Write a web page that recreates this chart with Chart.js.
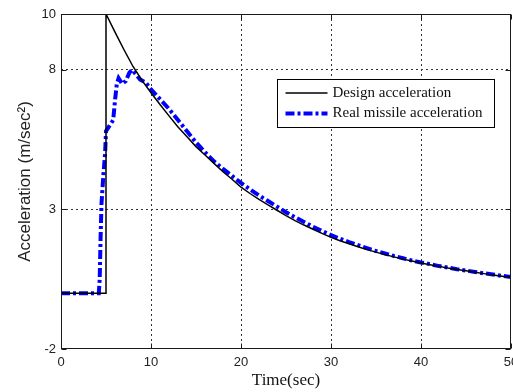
<!DOCTYPE html>
<html lang="en">
<head>
    <meta charset="UTF-8">
    <title>Missile acceleration</title>
    <script src="https://cdn.jsdelivr.net/npm/chart.js"></script>
    <style>
        body { margin: 0; padding: 0; background: #fff; }
        #chart-container { position: relative; width: 513px; height: 392px; }
    </style>
</head>
<body>

<div id="chart-container">
    <canvas id="accelChart"></canvas>
</div>

<script>
// Data
const designTime  = [0, 5, 5, 6, 7, 8, 9, 10, 11, 12, 13, 14, 15, 16, 17, 18, 19, 20, 21, 22, 23, 24, 25,
                     26, 27, 28, 29, 30, 31, 32, 33, 34, 35, 36, 37, 38, 39, 40, 41, 42, 43, 44, 45, 46, 47, 48, 49, 50];
const designAccel = [0, 0, 10, 9.35, 8.72, 8.12, 7.62, 7.18, 6.76, 6.35, 5.95, 5.6, 5.25, 4.95, 4.65, 4.35, 4.08, 3.8, 3.57, 3.36, 3.16, 2.97, 2.78,
                     2.6, 2.44, 2.29, 2.14, 2.0, 1.88, 1.77, 1.66, 1.56, 1.47, 1.38, 1.3, 1.22, 1.15, 1.08, 1.02, 0.96, 0.9, 0.85, 0.8, 0.75, 0.7, 0.65, 0.61, 0.57];

const realTime  = [0, 1, 2, 3, 4, 4.2, 4.3, 4.4, 4.5, 4.7, 4.9, 5.0, 5.4, 5.8, 6.0, 6.2, 6.4, 6.8, 7.2, 7.6, 7.9, 8.3, 8.8, 9.4, 10,
                   11, 12, 13, 14, 15, 16, 17, 18, 19, 20, 21, 22, 23, 24, 25, 26, 27, 28, 29, 30,
                   31, 32, 33, 34, 35, 36, 37, 38, 39, 40, 41, 42, 43, 44, 45, 46, 47, 48, 49, 50];
const realAccel = [0, 0, 0, 0, 0, 0, 0.5, 2.0, 3.2, 4.2, 5.0, 5.8, 6.0, 6.2, 6.9, 7.5, 7.7, 7.5, 7.6, 7.9, 8.0, 7.85, 7.65, 7.55, 7.3,
                   6.95, 6.6, 6.2, 5.8, 5.4, 5.05, 4.72, 4.45, 4.2, 3.95, 3.72, 3.5, 3.3, 3.1, 2.9, 2.72, 2.55, 2.38, 2.23, 2.08,
                   1.95, 1.83, 1.72, 1.61, 1.51, 1.42, 1.33, 1.25, 1.17, 1.1, 1.04, 0.97, 0.92, 0.86, 0.81, 0.76, 0.71, 0.67, 0.62, 0.58];

const yTickValues = [-2, 3, 8, 10];
const seriesLabels = ['Design acceleration', 'Real missile acceleration'];

const toPoints = (xs, ys) => xs.map((x, i) => ({ x: x, y: ys[i] }));

const sansFont = "'Liberation Sans', Arial, sans-serif";
const serifFont = "'Liberation Serif', 'Times New Roman', serif";

// box around the plot + small inward ticks (matlab style)
const framePlugin = {
    id: 'frame',
    afterDatasetsDraw(chart) {
        const { ctx, chartArea: a, scales } = chart;
        const L = Math.round(a.left) + 0.5, R = Math.round(a.right) - 0.5;
        const T = Math.round(a.top) + 0.5, B = Math.round(a.bottom) - 0.5;
        ctx.save();
        ctx.strokeStyle = '#1a1a1a';
        ctx.lineWidth = 1;
        ctx.setLineDash([]);
        ctx.strokeRect(L, T, R - L, B - T);
        ctx.beginPath();
        scales.x.ticks.forEach(t => {
            const px = Math.round(scales.x.getPixelForValue(t.value)) + 0.5;
            ctx.moveTo(px, B); ctx.lineTo(px, B - 5);
            ctx.moveTo(px, T); ctx.lineTo(px, T + 5);
        });
        scales.y.ticks.forEach(t => {
            const py = Math.round(scales.y.getPixelForValue(t.value)) + 0.5;
            ctx.moveTo(L, py); ctx.lineTo(L + 5, py);
            ctx.moveTo(R, py); ctx.lineTo(R - 5, py);
        });
        ctx.stroke();
        ctx.restore();
    }
};

// legend box inside the plot, top right
const boxLegendPlugin = {
    id: 'boxLegend',
    afterDraw(chart) {
        const { ctx, chartArea: a } = chart;
        const bx = Math.round(a.right - 234) + 0.5;
        const by = Math.round(a.top + 65) + 0.5;
        const bw = 217, bh = 48;
        ctx.save();
        ctx.fillStyle = '#fff';
        ctx.fillRect(bx, by, bw, bh);
        ctx.strokeStyle = '#000';
        ctx.lineWidth = 1;
        ctx.strokeRect(bx, by, bw, bh);
        ctx.font = '15px ' + serifFont;
        ctx.textBaseline = 'middle';
        ctx.fillStyle = '#111';
        chart.data.datasets.forEach((ds, i) => {
            const ly = by + 13.5 + i * 20.5;
            ctx.beginPath();
            ctx.strokeStyle = ds.borderColor;
            ctx.lineWidth = ds.borderWidth;
            ctx.setLineDash(ds.borderDash || []);
            ctx.moveTo(bx + 8, ly);
            ctx.lineTo(bx + 50, ly);
            ctx.stroke();
            ctx.setLineDash([]);
            ctx.fillText(ds.label, bx + 55, ly);
        });
        ctx.restore();
    }
};

const ctx = document.getElementById('accelChart').getContext('2d');
const accelChart = new Chart(ctx, {
    type: 'line',
    data: {
        datasets: [{
            label: seriesLabels[0],
            data: toPoints(designTime, designAccel),
            borderColor: '#000000',
            borderWidth: 1.5,
            pointRadius: 0,
            fill: false,
            tension: 0
        }, {
            label: seriesLabels[1],
            data: toPoints(realTime, realAccel),
            borderColor: '#0000ff',
            borderWidth: 4,
            borderDash: [9, 3, 3, 3],
            borderCapStyle: 'butt',
            pointRadius: 0,
            fill: false,
            tension: 0
        }]
    },
    options: {
        responsive: true,
        maintainAspectRatio: false,
        animation: false,
        layout: { padding: { top: 14, right: 2, left: 0, bottom: 0 } },
        plugins: {
            legend: { display: false },
            tooltip: { enabled: false }
        },
        scales: {
            x: {
                type: 'linear',
                min: 0,
                max: 50,
                ticks: {
                    stepSize: 10,
                    padding: 6,
                    color: '#222',
                    font: { family: sansFont, size: 13 }
                },
                grid: {
                    drawTicks: false,
                    lineWidth: 1,
                    color: c => (c.tick && (c.tick.value === 0 || c.tick.value === 50)) ? 'rgba(0,0,0,0)' : '#333'
                },
                border: { display: false, dash: [2, 3] },
                title: {
                    display: true,
                    text: 'Time(sec)',
                    color: '#111',
                    font: { family: serifFont, size: 17 },
                    padding: { top: 0, bottom: 1 }
                },
                afterFit(scale) {
                    scale.height = 43;
                    // let the "50" label run off the edge like the original
                    scale.paddingRight = 0;
                    scale.paddingLeft = 0;
                }
            },
            y: {
                type: 'linear',
                min: -2,
                max: 10,
                afterBuildTicks(scale) {
                    scale.ticks = yTickValues.map(v => ({ value: v }));
                },
                ticks: {
                    padding: 5,
                    color: '#222',
                    font: { family: sansFont, size: 13 }
                },
                grid: {
                    drawTicks: false,
                    lineWidth: 1,
                    color: c => (c.tick && (c.tick.value === -2 || c.tick.value === 10)) ? 'rgba(0,0,0,0)' : '#333'
                },
                border: { display: false, dash: [2, 3] },
                title: {
                    display: true,
                    text: 'Acceleration (m/sec²)',
                    color: '#222',
                    font: { family: sansFont, size: 17 },
                    padding: { top: 15, bottom: 0 }
                },
                afterFit(scale) {
                    scale.width = 61;
                    scale.paddingTop = 0;
                    scale.paddingBottom = 0;
                }
            }
        }
    },
    plugins: [framePlugin, boxLegendPlugin]
});
</script>

</body>
</html>
